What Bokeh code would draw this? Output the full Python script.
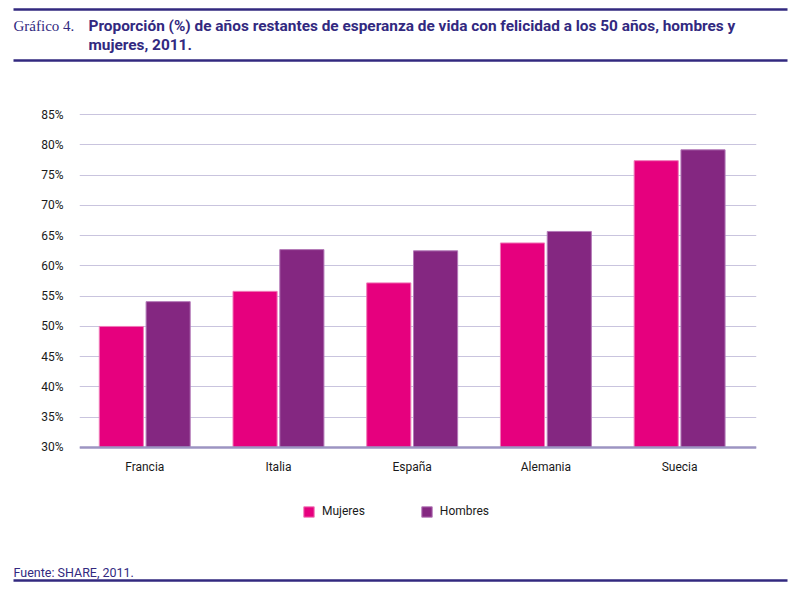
from bokeh.plotting import figure
from bokeh.models import (Range1d, FixedTicker, PrintfTickFormatter,
                          Legend, LegendItem, ColumnDataSource)
from bokeh.core.properties import value
from bokeh.transform import dodge
from bokeh.embed import file_html
from bokeh.resources import INLINE

paises = ["Francia", "Italia", "España", "Alemania", "Suecia"]
mujeres = [50.0, 55.8, 57.2, 63.8, 77.4]
hombres = [54.1, 62.7, 62.5, 65.7, 79.2]
y_ticks = [30, 35, 40, 45, 50, 55, 60, 65, 70, 75, 80, 85]
series = ["Mujeres", "Hombres"]

NAVY = "#32297f"
PINK = "#e6007e"
PURPLE = "#842781"
FONT = "Roboto"
W = 792


def blank(h):
    f = figure(width=W, height=h, output_backend="svg", toolbar_location=None,
               x_range=Range1d(0, W), y_range=Range1d(h, 0),
               x_axis_location=None, y_axis_location=None, min_border=0)
    f.outline_line_color = None
    f.grid.visible = False
    return f


# ---------- header ----------
head = blank(64)
head.segment(x0=[13, 13], x1=[787, 787], y0=[9, 60], y1=[9, 60],
             line_color=NAVY, line_width=2.5)
head.text(x=[13], y=[25], text=["Gráfico 4."], text_font=value("Liberation Serif"),
          text_font_size="15px", text_color=NAVY, text_baseline="middle")
head.text(x=[88, 88], y=[25, 44],
          text=["Proporción (%) de años restantes de esperanza de vida con felicidad a los 50 años, hombres y",
                "mujeres, 2011."],
          text_font=value(FONT), text_font_style="bold", text_font_size="15.4px",
          text_color=NAVY, text_baseline="middle")

# ---------- main chart (frame extends down to hold the legend) ----------
src = ColumnDataSource(dict(i=list(range(len(paises))), pais=paises,
                            mujeres=mujeres, hombres=hombres))
p = figure(width=W, height=496, output_backend="svg", toolbar_location=None,
           x_range=Range1d(-0.488, 4.575), y_range=Range1d(16.27, 85.2),
           min_border_left=79, min_border_right=36, min_border_top=49,
           min_border_bottom=30)
p.outline_line_color = None

r1 = p.vbar(x=dodge("i", -0.175, range=p.x_range), width=0.33, bottom=30,
            top="mujeres", source=src, fill_color=PINK, line_color="#f07ab8",
            line_width=1)
r2 = p.vbar(x=dodge("i", 0.175, range=p.x_range), width=0.33, bottom=30,
            top="hombres", source=src, fill_color=PURPLE, line_color="#b47ab8",
            line_width=1)

p.xgrid.visible = False
p.ygrid.ticker = FixedTicker(ticks=y_ticks)
p.ygrid.grid_line_color = "#c9c4de"
p.ygrid.grid_line_width = 1.2

ya = p.yaxis[0]
ya.ticker = FixedTicker(ticks=y_ticks)
ya.formatter = PrintfTickFormatter(format="%d%%")
ya.axis_line_color = None
ya.major_tick_line_color = None
ya.minor_tick_line_color = None
ya.major_label_text_font = FONT
ya.major_label_text_font_size = "12px"
ya.major_label_text_color = "#1a1a1a"
ya.major_label_standoff = 10

xa = p.xaxis[0]
xa.fixed_location = 30
xa.ticker = FixedTicker(ticks=list(range(len(paises))))
xa.major_label_overrides = {i: n for i, n in enumerate(paises)}
xa.axis_line_color = "#9c94c2"
xa.axis_line_width = 2.5
xa.major_tick_line_color = None
xa.minor_tick_line_color = None
xa.major_label_text_font = FONT
xa.major_label_text_font_size = "12px"
xa.major_label_text_color = "#1a1a1a"
xa.major_label_standoff = 7

legend = Legend(items=[LegendItem(label=series[0], renderers=[r1]),
                       LegendItem(label=series[1], renderers=[r2])],
                orientation="horizontal", location=(223, 12),
                padding=0, margin=0, spacing=55, glyph_width=13,
                glyph_height=13, label_standoff=7, border_line_color=None,
                background_fill_alpha=0, label_text_font=FONT,
                label_text_font_size="12px", label_text_color="#1a1a1a")
p.add_layout(legend, "center")

# ---------- footer ----------
foot = blank(23)
foot.text(x=[13], y=[12], text=["Fuente: SHARE, 2011."], text_font=value(FONT),
          text_font_style="normal", text_font_size="12.5px", text_color=NAVY,
          text_baseline="middle")
foot.segment(x0=[13], x1=[787], y0=[20], y1=[20], line_color=NAVY, line_width=2.5)

open("out.html", "w").write(file_html([head, p, foot], INLINE))
